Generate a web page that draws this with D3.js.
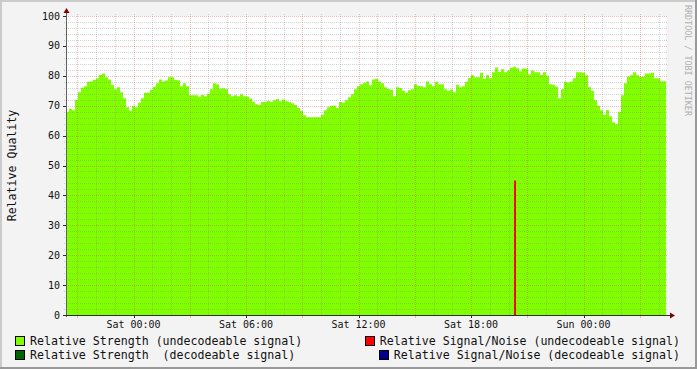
<!DOCTYPE html>
<html><head><meta charset="utf-8">
<script src="https://cdn.jsdelivr.net/npm/d3@7"></script>
<style>
html,body{margin:0;padding:0;background:#f3f3f3;}
svg{display:block;}
text{font-family:"DejaVu Sans Mono",monospace;white-space:pre;}
</style></head><body>
<svg id="c" width="697" height="369"></svg>
<script>
// ---- data ----
const startTime = "2010-01-01T20:24:00Z";   // Fri 20:24
const endTime   = "2010-01-03T04:24:00Z";   // Sun 04:24
const stepSeconds = 576;                    // sample step
const strengthUndecodeable = [
68,69,68.5,72,74.5,76,76.5,78,78.1,78.7,79.2,80.3,80.8,79.5,78.8,77,75.5,76.2,74.5,72.5,
69.5,68.3,70,69.5,71,72.5,74.3,74.3,75.3,76.3,77.5,78.8,78.1,78.4,79.5,79.5,78.6,78.5,76.5,77.5,
76.5,73.5,73.5,73.5,73,73.6,73.2,74,75.5,77.5,77.2,75.7,75.8,75.5,73.8,73.2,73.5,73.2,73.8,73.2,
73.1,72.4,71.3,70.5,70.2,71.2,71.2,71.6,71.2,71.8,72.2,71.5,72.1,71.5,71.2,70.8,70.2,69.2,68.2,66.8,
66.1,66.1,66.1,66.1,66.1,67,68.5,69.5,70,70,69.2,71.2,71,71.8,72.8,73.8,75.5,76.5,77.2,77.6,
78.1,76.8,78.8,79,78.1,77.5,76.2,75.6,75.3,73.2,76.2,75.9,75,74.3,75.2,75.5,77.2,76.6,76.5,76.2,
78.1,77.2,76.5,78,77.2,77.2,75.5,75,75.4,74.5,77,76.2,76.5,78,79.3,80.2,79.5,79.5,81,79,
80.2,79.2,81.2,82.8,81.3,82.2,81.2,81.8,82.7,83,82.5,81.5,82.4,82.4,80.5,81.8,81.2,81.2,80.3,81.2,
80,77.2,77,76.3,72.5,75.5,78,77.8,78.1,79.2,81.2,81.2,81,80.2,76.2,75,71.8,70,68.5,67,
68.6,66.5,64.5,63.8,68,73.5,77.5,79.8,80.2,81.2,80.2,79.7,79.8,80.8,80.8,81,79.2,79.2,78.2,78.2
];
const snrUndecodeableTimes  = ["2010-01-02T20:19:00Z"];
const snrUndecodeableValues = [45];
const yTicks = [0,10,20,30,40,50,60,70,80,90,100];
const legendItems = [
  "Relative Strength (undecodeable signal)",
  "Relative Signal/Noise (undecodeable signal)",
  "Relative Strength  (decodeable signal)",
  "Relative Signal/Noise (decodeable signal)"
];
const legendColors = ["#80ff00","#ff0000","#006400","#00008c"];
const yTitle = "Relative Quality";
const watermark = "RRDTOOL / TOBI OETIKER";

// ---- layout ----
const svg = d3.select("#c");
const X0 = 66, X1 = 666, Y0 = 315, Y1 = 16;
const t0 = new Date(startTime), t1 = new Date(endTime);
const x = d3.scaleUtc().domain([t0, t1]).range([X0, X1]);
const y = d3.scaleLinear().domain([0, 100]).range([Y0, Y1]);

// frame
svg.append("rect").attr("width",697).attr("height",369).attr("fill","#f3f3f3");
svg.append("rect").attr("x",0).attr("y",0).attr("width",697).attr("height",2).attr("fill","#cbcbcb");
svg.append("rect").attr("x",0).attr("y",0).attr("width",2).attr("height",369).attr("fill","#cbcbcb");
svg.append("rect").attr("x",0).attr("y",367).attr("width",697).attr("height",2).attr("fill","#999");
svg.append("rect").attr("x",695).attr("y",0).attr("width",2).attr("height",369).attr("fill","#999");

// canvas
svg.append("rect").attr("x",X0).attr("y",Y1).attr("width",X1-X0).attr("height",Y0-Y1).attr("fill","#fff");

// data series
const pts = strengthUndecodeable.map((v,i)=>({t:new Date(t0.getTime()+i*stepSeconds*1000), v}));
pts.push({t:t1, v:strengthUndecodeable[strengthUndecodeable.length-1]});
const area = d3.area().curve(d3.curveStepAfter).x(d=>x(d.t)).y0(y(0)).y1(d=>y(d.v));
svg.append("path").datum(pts).attr("d",area).attr("fill","#80ff00");

snrUndecodeableTimes.forEach((tt,i)=>{
  const xx = x(new Date(tt));
  svg.append("rect").attr("x",Math.round(xx)).attr("y",y(snrUndecodeableValues[i]))
    .attr("width",2).attr("height",y(0)-y(snrUndecodeableValues[i])).attr("fill","#ff0000");
});

// grid
const gMinor = "rgba(143,143,143,0.38)", gMajor = "rgba(224,80,80,0.4)";
const grid = svg.append("g").attr("shape-rendering","crispEdges");
d3.range(0,101,2).forEach(v=>{
  const major = v%10===0;
  if (v===0) return;
  grid.append("line").attr("x1",X0-2).attr("x2",X1+2).attr("y1",Math.round(y(v))+0.5).attr("y2",Math.round(y(v))+0.5)
    .attr("stroke",major?gMajor:gMinor).attr("stroke-dasharray","1,1");
});
const hours = d3.utcHour.every(1).range(t0, t1);
hours.forEach(h=>{
  const major = h.getUTCHours()%3===0;
  const xx = Math.round(x(h))+0.5;
  grid.append("line").attr("x1",xx).attr("x2",xx).attr("y1",Y1-2).attr("y2",Y0)
    .attr("stroke",major?gMajor:gMinor).attr("stroke-dasharray","1,1");
  if (major) grid.append("line").attr("x1",xx).attr("x2",xx).attr("y1",Y0).attr("y2",Y0+3).attr("stroke",gMajor);
});

// axes
const axisCol = "#2c2c2c";
svg.append("line").attr("x1",X0+0.5).attr("x2",X0+0.5).attr("y1",Y0+2).attr("y2",Y1-5).attr("stroke","#606060").attr("shape-rendering","crispEdges");
svg.append("line").attr("x1",X0-3).attr("x2",X1+5).attr("y1",Y0+0.5).attr("y2",Y0+0.5).attr("stroke",axisCol).attr("shape-rendering","crispEdges");
svg.append("path").attr("d",`M${X0-2.5},${Y1-3} L${X0+3.5},${Y1-3} L${X0+0.5},${Y1-8} Z`).attr("fill","#800000");
svg.append("path").attr("d",`M${X1+4},${Y0-2.5} L${X1+4},${Y0+3.5} L${X1+9},${Y0+0.5} Z`).attr("fill","#800000");

// y labels
yTicks.forEach(v=>{
  svg.append("line").attr("x1",X0-3).attr("x2",X0).attr("y1",Math.round(y(v))+0.5).attr("y2",Math.round(y(v))+0.5)
    .attr("stroke",axisCol).attr("shape-rendering","crispEdges");
  svg.append("text").attr("x",60).attr("y",y(v)+3.5).attr("text-anchor","end")
    .attr("font-size","10px").attr("fill","#111").text(v);
});
// x labels
const fmt = d3.utcFormat("%a %H:%M");
d3.utcHour.every(6).range(t0, t1).forEach(h=>{
  const xx = Math.round(x(h))+0.5;
  svg.append("line").attr("x1",xx).attr("x2",xx).attr("y1",Y0).attr("y2",Y0+3).attr("stroke",axisCol).attr("shape-rendering","crispEdges");
  svg.append("text").attr("x",x(h)).attr("y",328).attr("text-anchor","middle")
    .attr("font-size","10px").attr("fill","#111").text(fmt(h));
});

// y title
svg.append("text").attr("transform",`translate(15.5,${(Y0+Y1)/2}) rotate(-90)`).attr("text-anchor","middle")
  .attr("font-size","11.6px").attr("fill","#111").text(yTitle);
// watermark
svg.append("text").attr("transform",`translate(685,5) rotate(90)`).attr("text-anchor","start")
  .attr("font-size","8.4px").attr("fill","#b0b0b0").text(watermark);

// legend
const rows = [345, 359];
legendItems.forEach((s,i)=>{
  const row = Math.floor(i/2), left = i%2===0;
  const ty = rows[row];
  const t = svg.append("text").attr("y",ty).attr("font-size","11.6px").attr("fill","#111").text(s);
  let tx;
  if (left) { tx = 30; t.attr("x",tx); }
  else { t.attr("x",680).attr("text-anchor","end"); tx = 680 - t.node().getComputedTextLength(); }
  svg.append("rect").attr("x",Math.round(tx)-14.5).attr("y",ty-8.5).attr("width",9).attr("height",9)
    .attr("fill",legendColors[i]).attr("stroke","#000").attr("stroke-width",1);
});
</script>
</body></html>
